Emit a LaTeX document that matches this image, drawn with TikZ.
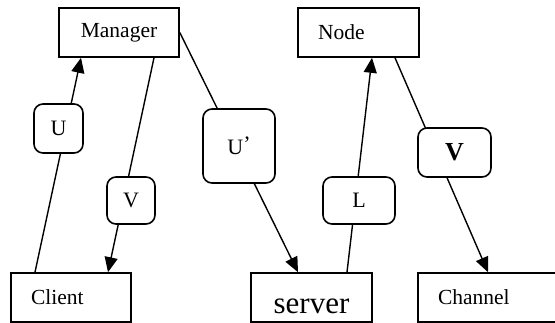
\documentclass[tikz,border=0pt]{standalone}
\usepackage{fontspec}
\setmainfont{Liberation Serif}
\usetikzlibrary{arrows.meta}

\begin{document}
\begin{tikzpicture}[x=1pt,y=-1pt,
every node/.style={draw,line width=1.6pt},
box/.style={minimum height=49pt,text width=80pt,inner xsep=20pt,inner ysep=0pt,align=left,font=\fontsize{21.5}{25}\selectfont},
tag/.style={rounded corners=9pt,fill=white,inner sep=0pt,font=\fontsize{22}{26}\selectfont},
link/.style={line width=1.4pt,-{Triangle[length=15pt,width=13pt]}}]
\useasboundingbox (0,0) rectangle (555,322);
% the five boxes
\node[box,align=center] (Manager) at (119,32.5) {Manager};
\node[box] (Client) at (71,297.5) {Client};
\node[box,text width=81pt,align=center,text height=31pt,text depth=0pt,font=\fontsize{31}{36}\selectfont] (Server) at (311.5,297.5) {server};
\node[box,text width=81pt] (Node) at (358.5,32.5) {Node};
\node[box,text width=100pt] (Channel) at (488,297.5) {Channel};
% connectors
\draw[link] ([xshift=-36pt]Client.north) -- ([xshift=-38pt]Manager.south);
\draw[link] ([xshift=35pt]Manager.south) -- ([xshift=37pt]Client.north);
\draw[link] (Manager.east) -- ([xshift=-13.5pt]Server.north);
\draw[link] ([xshift=35.5pt]Server.north) -- ([xshift=13.5pt]Node.south);
\draw[link] ([xshift=36.5pt]Node.south) -- (Channel.north);
% labels on the connectors
\node[tag,minimum width=49pt,minimum height=49pt] (tagU) at (58.5,128.5) {U};
\node[tag,minimum width=48pt,minimum height=47pt] (tagV) at (131,200.5) {V};
\node[tag,minimum width=72pt,minimum height=74pt] (tagUp) at (239,146) {U\raisebox{3pt}{’}};
\node[tag,minimum width=72pt,minimum height=47pt] (tagL) at (359,200.5) {L};
\node[tag,minimum width=73pt,minimum height=49pt,font=\fontsize{26}{30}\selectfont\bfseries] (tagV2) at (454.5,152.5) {V};
\end{tikzpicture}
\end{document}
